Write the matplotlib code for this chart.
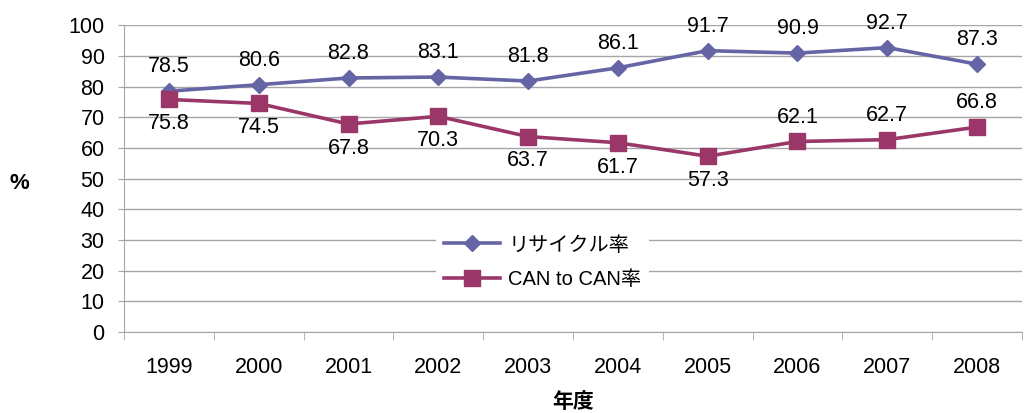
import matplotlib
matplotlib.use("Agg")
import matplotlib.pyplot as plt
import numpy as np

plt.rcParams['font.family'] = ['Liberation Sans', 'Noto Sans CJK JP', 'DejaVu Sans']

# chart data
years = ['1999', '2000', '2001', '2002', '2003', '2004', '2005', '2006', '2007', '2008']
recycle_rate = [78.5, 80.6, 82.8, 83.1, 81.8, 86.1, 91.7, 90.9, 92.7, 87.3]
can_to_can = [75.8, 74.5, 67.8, 70.3, 63.7, 61.7, 57.3, 62.1, 62.7, 66.8]

blue = '#6565A5'
maroon = '#9A3768'
grid_col = '#A6A6A6'
fs = 15.5

fig = plt.figure(figsize=(10.25, 4.13), dpi=100)
ax = fig.add_axes([0.121, 0.196, 0.876, 0.743])

x = np.arange(len(years))
ax.plot(x, recycle_rate, color=blue, lw=2.6, marker='D', ms=8, label='リサイクル率', zorder=4)
ax.plot(x, can_to_can, color=maroon, lw=2.6, marker='s', ms=11, label='CAN to CAN率', zorder=4)

for i, v in enumerate(recycle_rate):
    ax.annotate(f'{v:.1f}', (x[i], v), xytext=(0, 10), textcoords='offset points',
                ha='center', va='bottom', fontsize=fs)
for i, v in enumerate(can_to_can):
    if i >= 7:
        ax.annotate(f'{v:.1f}', (x[i], v), xytext=(0, 10), textcoords='offset points',
                    ha='center', va='bottom', fontsize=fs)
    else:
        ax.annotate(f'{v:.1f}', (x[i], v), xytext=(0, -10), textcoords='offset points',
                    ha='center', va='top', fontsize=fs)

ax.set_xlim(-0.5, len(years) - 0.5)
ax.set_ylim(0, 100)
ax.set_yticks(np.arange(0, 101, 10))
ax.set_xticks(x)
ax.set_xticklabels(years)
ax.set_xticks(np.arange(-0.5, len(years), 1), minor=True)
ax.tick_params(axis='x', which='major', length=0, pad=18, labelsize=fs)
ax.tick_params(axis='x', which='minor', length=6, color=grid_col)
ax.tick_params(axis='y', length=4, color=grid_col, labelsize=fs, pad=10)

ax.grid(axis='y', color=grid_col, lw=1)
ax.set_axisbelow(True)
for s in ['top', 'right']:
    ax.spines[s].set_visible(False)
for s in ['left', 'bottom']:
    ax.spines[s].set_color(grid_col)

ax.set_ylabel('%', rotation=0, fontsize=16, fontweight='bold', va='center')
ax.yaxis.set_label_coords(-0.117, 0.485)
ax.set_xlabel('年度', fontsize=15, fontweight='bold', va='center')
ax.xaxis.set_label_coords(0.5, -0.228)

leg = ax.legend(loc='center', bbox_to_anchor=(0.466, 0.228), frameon=True, fontsize=14.5,
                handlelength=2.8, borderpad=0.4, labelspacing=0.75, handletextpad=0.4)
leg.get_frame().set_edgecolor('none')
leg.get_frame().set_facecolor('white')
leg.get_frame().set_alpha(1)

fig.savefig('out.png', dpi=100)
